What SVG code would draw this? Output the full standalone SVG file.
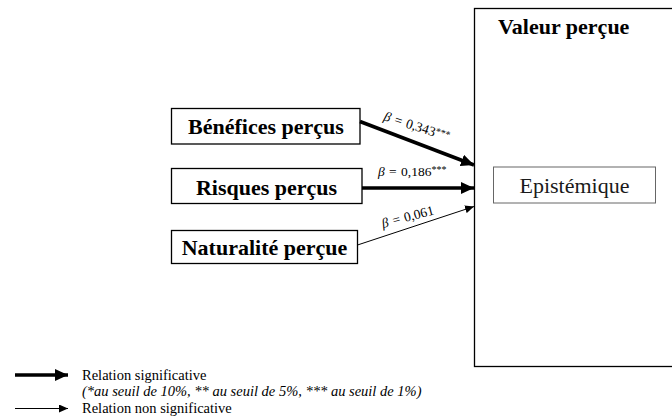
<svg xmlns="http://www.w3.org/2000/svg" width="672" height="418" viewBox="0 0 672 418">
<style>
.box{fill:#fff;stroke:#000;stroke-width:1.3}
.lbl{font-family:"Liberation Serif","Times New Roman",serif;font-weight:bold;font-size:22px;fill:#000}
.reg{font-family:"Liberation Serif","Times New Roman",serif;font-size:22px;fill:#1a1a1a}
.beta{font-family:"Liberation Serif","Times New Roman",serif;font-size:13.5px;fill:#000}
.leg{font-family:"Liberation Serif","Times New Roman",serif;font-size:14.5px;fill:#000}
.thick{stroke:#000;stroke-width:3.5;fill:none}
.thin{stroke:#000;stroke-width:1;fill:none}
</style>
<defs>
<marker id="hk" markerUnits="userSpaceOnUse" markerWidth="14" markerHeight="12" refX="13" refY="6" orient="auto"><path d="M0,0 L13,6 L0,12 Z" fill="#000"/></marker>
<marker id="hn" markerUnits="userSpaceOnUse" markerWidth="10" markerHeight="8" refX="9" refY="4" orient="auto"><path d="M0,0 L9,4 L0,8 Z" fill="#000"/></marker>
</defs>
<rect width="672" height="418" fill="#fff"/>
<g id="valeur">
<rect class="box" x="474.5" y="8.5" width="230" height="358"/>
<text class="lbl" x="498" y="34">Valeur perçue</text>
</g>
<g id="epistemique">
<rect x="493.5" y="167" width="162" height="36" fill="#fff" stroke="#666" stroke-width="1"/>
<text class="reg" x="574.5" y="193" text-anchor="middle">Epistémique</text>
</g>
<g id="benefices">
<rect class="box" x="171.5" y="108.5" width="188.5" height="35.5"/>
<text class="lbl" x="266" y="133.5" text-anchor="middle">Bénéfices perçus</text>
</g>
<g id="risques">
<rect class="box" x="171.5" y="168.5" width="190.5" height="35"/>
<text class="lbl" x="266.5" y="195" text-anchor="middle">Risques perçus</text>
</g>
<g id="naturalite">
<rect class="box" x="171.5" y="230.5" width="186" height="33"/>
<text class="lbl" x="264.5" y="254.5" text-anchor="middle">Naturalité perçue</text>
</g>
<g id="connectors">
<line class="thick" x1="360" y1="121.5" x2="474" y2="165" marker-end="url(#hk)"/>
<line class="thick" x1="362" y1="188" x2="474" y2="188" marker-end="url(#hk)"/>
<line class="thin" x1="357.5" y1="245" x2="474" y2="206.5" marker-end="url(#hn)"/>
<text class="beta" transform="translate(383,120) rotate(18)"><tspan font-style="italic">β</tspan> <tspan dx="1">=</tspan> <tspan dx="1">0,343</tspan><tspan font-size="10" dy="-3">***</tspan></text>
<text class="beta" x="378" y="176"><tspan font-style="italic">β</tspan> <tspan dx="1">=</tspan> <tspan dx="1">0,186</tspan><tspan font-size="10" dy="-3">***</tspan></text>
<text class="beta" transform="translate(383,228) rotate(-15)"><tspan font-style="italic">β</tspan> <tspan dx="1">=</tspan> <tspan dx="1">0,061</tspan></text>
</g>
<g id="legend">
<line class="thick" x1="15" y1="375" x2="68" y2="375" marker-end="url(#hk)"/>
<text class="leg" x="82" y="380">Relation significative</text>
<text class="leg" x="82" y="396" font-style="italic">(*au seuil de 10%, ** au seuil de 5%, *** au seuil de 1%)</text>
<line class="thin" x1="15" y1="408.5" x2="68" y2="408.5" marker-end="url(#hn)"/>
<text class="leg" x="82" y="413">Relation non significative</text>
</g>
</svg>
